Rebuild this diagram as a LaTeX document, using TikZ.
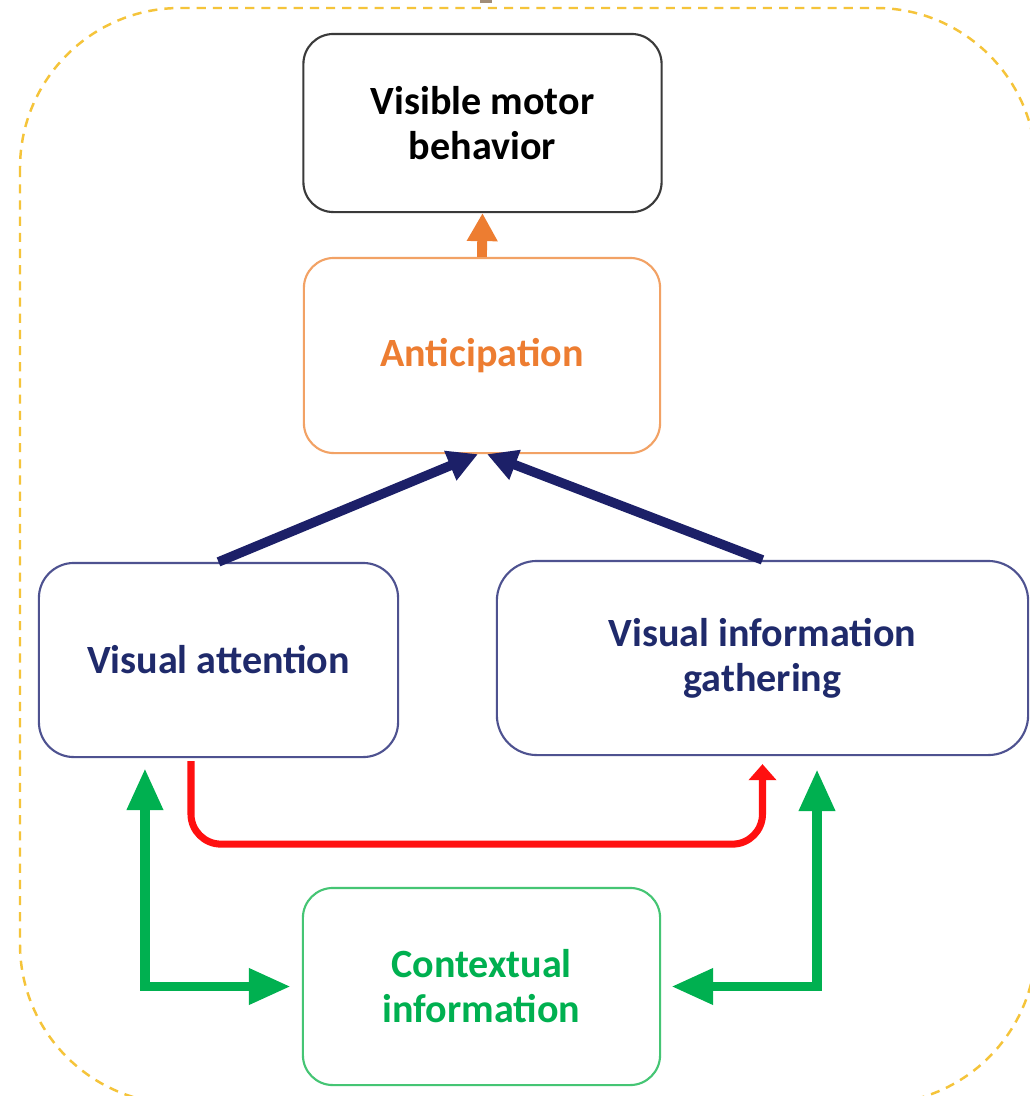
\documentclass[tikz,border=0pt]{standalone}
\usepackage{fontspec}
\setmainfont{Carlito}
\usetikzlibrary{arrows.meta}
\definecolor{blackB}{HTML}{3A3A3A}
\definecolor{orangeT}{HTML}{ED7D31}
\definecolor{orangeB}{HTML}{F2A265}
\definecolor{navyT}{HTML}{1F2A6B}
\definecolor{navyA}{HTML}{1C2068}
\definecolor{navyB}{HTML}{4E5290}
\definecolor{greenA}{HTML}{00B050}
\definecolor{greenB}{HTML}{45C574}
\definecolor{redA}{HTML}{FF1010}
\definecolor{goldD}{HTML}{F5C43A}
\definecolor{brownS}{HTML}{A08C78}
\begin{document}
\begin{tikzpicture}[x=0.01cm,y=-0.01cm,
  box/.style={rounded corners=0.3cm, align=center, inner sep=0pt,
    font=\bfseries\fontsize{11.4}{12.8}\selectfont, line width=0.6pt},
  navyarrow/.style={navyA, line width=2.7pt, -{Triangle[length=0.3cm,width=0.3cm]}},
  greenarrow/.style={greenA, line width=2.8pt, line join=miter,
    {Triangle[length=0.42cm,width=0.34cm]}-{Triangle[length=0.42cm,width=0.34cm]}}]
\useasboundingbox (0,0) rectangle (1030,1096);
\fill[white] (0,0) rectangle (1030,1096);
\draw[goldD, line width=0.7pt, dash pattern=on 2.6pt off 2pt, rounded corners=1.6cm]
  (20,8) rectangle (1036,1104);
\fill[brownS] (480,0) rectangle (492,3);

\node[box, draw=blackB, text=black, minimum width=3.58cm, minimum height=1.78cm] (vmb) at (482.5,123) {Visible motor\\behavior};
\node[box, draw=orangeB, text=orangeT, minimum width=3.56cm, minimum height=1.95cm] (ant) at (482,355.5) {\raisebox{-0.04cm}{Anticipation}};
\node[box, draw=navyB, text=navyT, minimum width=3.59cm, minimum height=1.94cm, rounded corners=0.35cm] (va) at (218.5,660) {\raisebox{-0.02cm}{Visual attention}};
\node[box, draw=navyB, text=navyT, minimum width=5.31cm, minimum height=1.94cm, rounded corners=0.4cm] (vig) at (762.5,658) {Visual information\\gathering};
\node[box, draw=greenB, text=greenA, minimum width=3.57cm, minimum height=1.97cm] (ci) at (481.5,986.5) {Contextual\\information};

\draw[orangeT, line width=2.8pt, -{Triangle[length=0.28cm,width=0.29cm]}] (ant.north) -- (vmb.south);
\draw[navyarrow] (va.north) -- ([xshift=-0.04cm]ant.south);
\draw[navyarrow] (vig.north) -- ([xshift=0.05cm]ant.south);
\draw[redA, line width=2pt, rounded corners=0.3cm, -{Triangle[length=0.16cm,width=0.27cm]}]
  ([xshift=-0.275cm,yshift=-0.03cm]va.south) -- ++(0,83) -| ([yshift=-0.08cm]vig.south);
\draw[greenarrow] ([xshift=-0.735cm,yshift=-0.1cm]va.south) |- ([xshift=-0.11cm]ci.west);
\draw[greenarrow] ([xshift=0.1cm]ci.east) -| ([xshift=0.545cm,yshift=-0.13cm]vig.south);
\end{tikzpicture}
\end{document}
